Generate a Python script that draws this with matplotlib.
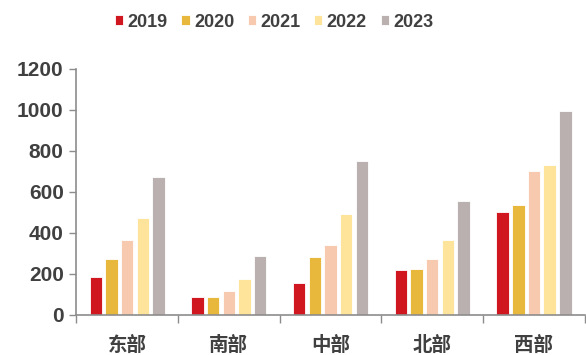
import matplotlib.pyplot as plt
import numpy as np

regions = ['东部', '南部', '中部', '北部', '西部']
years = ['2019', '2020', '2021', '2022', '2023']
v2019 = [185, 85, 153, 216, 499]
v2020 = [272, 88, 280, 224, 535]
v2021 = [366, 114, 338, 270, 701]
v2022 = [470, 173, 491, 363, 732]
v2023 = [672, 285, 748, 555, 992]
colors = ['#D0161E', '#E8B83C', '#F7C9AE', '#FDE49A', '#BAB0AF']

series = [v2019, v2020, v2021, v2022, v2023]

fig = plt.figure(figsize=(5.86, 3.55), dpi=100)
ax = fig.add_axes([0.13, 0.1135, 0.868, 0.6925])

x = np.arange(len(regions))
step = 0.154
width = 0.122
for i, vals in enumerate(series):
    ax.bar(x + (i - 2) * step, vals, width, color=colors[i], label=years[i],
           edgecolor='white', linewidth=0.6, zorder=2)

axis_col = '#8c8c8c'
txt_col = '#404040'
ax.set_xlim(-0.5, len(regions) - 0.5)
ax.set_ylim(0, 1200)
ax.set_yticks(range(0, 1201, 200))
ax.set_xticks(np.arange(-0.5, len(regions), 1.0))
ax.set_xticklabels([])
ax.set_xticks(x, minor=True)
ax.set_xticklabels(regions, minor=True, family=['Noto Sans CJK SC'],
                   fontsize=14, fontweight='bold', color=txt_col)
ax.tick_params(axis='x', which='minor', length=0, pad=15)
ax.tick_params(axis='x', which='major', length=6, color=axis_col, width=1)
ax.tick_params(axis='y', length=5, color=axis_col, width=1, pad=4)
for lab in ax.get_yticklabels():
    lab.set_family('Liberation Sans')
    lab.set_fontsize(15)
    lab.set_fontweight('bold')
    lab.set_color(txt_col)

for s in ['top', 'right']:
    ax.spines[s].set_visible(False)
for s in ['left', 'bottom']:
    ax.spines[s].set_color(axis_col)
    ax.spines[s].set_linewidth(1.2)

leg = fig.legend(loc='center', bbox_to_anchor=(0.468, 0.938), ncol=5,
                 frameon=False, handlelength=0.45, handleheight=0.45,
                 handletextpad=0.25, columnspacing=0.75, borderpad=0,
                 prop={'family': 'Liberation Sans', 'size': 13, 'weight': 'bold'})
for t in leg.get_texts():
    t.set_color(txt_col)

plt.savefig('out.png', dpi=100)
